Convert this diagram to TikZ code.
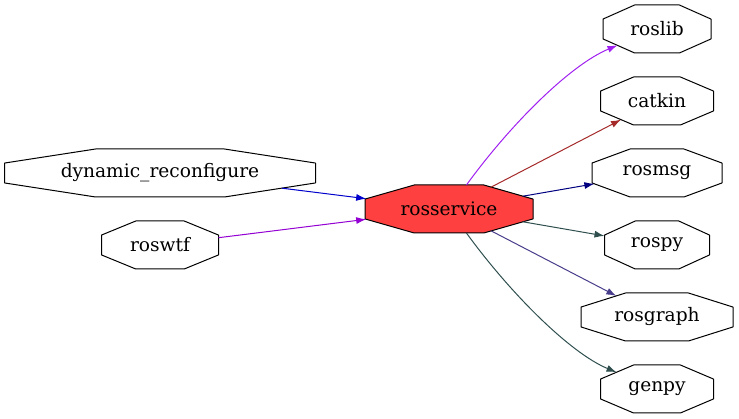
\documentclass[tikz,border=0pt]{standalone}
\usepackage{fontspec}
\setmainfont{DejaVu Serif}
\usetikzlibrary{arrows.meta}
\definecolor{edgepurple}{RGB}{160,32,240}
\definecolor{edgebrown}{RGB}{165,42,42}
\definecolor{edgenavy}{RGB}{0,0,128}
\definecolor{edgeslate}{RGB}{47,79,79}
\definecolor{edgeslateblue}{RGB}{72,61,139}
\definecolor{edgeblue}{RGB}{0,0,205}
\definecolor{edgeviolet}{RGB}{148,0,211}
\definecolor{mainred}{RGB}{255,64,64}
% octagon box, stretched to the node's width and height
\makeatletter
\def\pkg@getdims{%
	\southwest \edef\pkg@swx{\strip@pt\pgf@x}\edef\pkg@swy{\strip@pt\pgf@y}%
	\northeast \edef\pkg@nex{\strip@pt\pgf@x}\edef\pkg@ney{\strip@pt\pgf@y}%
	\pgfmathsetmacro\pkg@a{(\pkg@nex-\pkg@swx)/2}%
	\pgfmathsetmacro\pkg@b{(\pkg@ney-\pkg@swy)/2}%
	\pgfmathsetmacro\pkg@cx{(\pkg@nex+\pkg@swx)/2}%
	\pgfmathsetmacro\pkg@cy{(\pkg@ney+\pkg@swy)/2}}
\pgfdeclareshape{pkgoctagon}{%
	\inheritsavedanchors[from=rectangle]
	\inheritanchor[from=rectangle]{center}
	\inheritanchor[from=rectangle]{north}
	\inheritanchor[from=rectangle]{south}
	\inheritanchor[from=rectangle]{east}
	\inheritanchor[from=rectangle]{west}
	\backgroundpath{%
		\pkg@getdims
		\pgfmathsetmacro\pkg@xl{\pkg@cx-\pkg@a}\pgfmathsetmacro\pkg@xr{\pkg@cx+\pkg@a}%
		\pgfmathsetmacro\pkg@xi{\pkg@cx-0.4142*\pkg@a}\pgfmathsetmacro\pkg@xj{\pkg@cx+0.4142*\pkg@a}%
		\pgfmathsetmacro\pkg@yb{\pkg@cy-\pkg@b}\pgfmathsetmacro\pkg@yt{\pkg@cy+\pkg@b}%
		\pgfmathsetmacro\pkg@yi{\pkg@cy-0.4142*\pkg@b}\pgfmathsetmacro\pkg@yj{\pkg@cy+0.4142*\pkg@b}%
		\pgfpathmoveto{\pgfqpoint{\pkg@xi pt}{\pkg@yt pt}}%
		\pgfpathlineto{\pgfqpoint{\pkg@xj pt}{\pkg@yt pt}}%
		\pgfpathlineto{\pgfqpoint{\pkg@xr pt}{\pkg@yj pt}}%
		\pgfpathlineto{\pgfqpoint{\pkg@xr pt}{\pkg@yi pt}}%
		\pgfpathlineto{\pgfqpoint{\pkg@xj pt}{\pkg@yb pt}}%
		\pgfpathlineto{\pgfqpoint{\pkg@xi pt}{\pkg@yb pt}}%
		\pgfpathlineto{\pgfqpoint{\pkg@xl pt}{\pkg@yi pt}}%
		\pgfpathlineto{\pgfqpoint{\pkg@xl pt}{\pkg@yj pt}}%
		\pgfpathclose}
	\anchorborder{%
		\edef\pkg@dx{\strip@pt\pgf@x}\edef\pkg@dy{\strip@pt\pgf@y}%
		\pkg@getdims
		\pgfmathsetmacro\pkg@m{max(abs(\pkg@dx),abs(\pkg@dy),0.01)}%
		\pgfmathsetmacro\pkg@sx{\pkg@dx/\pkg@m}%
		\pgfmathsetmacro\pkg@sy{\pkg@dy/\pkg@m}%
		\pgfmathsetmacro\pkg@l{veclen(\pkg@sx,\pkg@sy)}%
		\pgfmathsetmacro\pkg@ux{abs(\pkg@sx)/\pkg@l}%
		\pgfmathsetmacro\pkg@uy{abs(\pkg@sy)/\pkg@l}%
		\pgfmathsetmacro\pkg@t{min(\pkg@a/max(\pkg@ux,0.01),\pkg@b/max(\pkg@uy,0.01),1.4142/(\pkg@ux/\pkg@a+\pkg@uy/\pkg@b))}%
		\pgfmathsetmacro\pkg@px{\pkg@cx+\pkg@t*\pkg@sx/\pkg@l}%
		\pgfmathsetmacro\pkg@py{\pkg@cy+\pkg@t*\pkg@sy/\pkg@l}%
		\pgf@x=\pkg@px pt\relax \pgf@y=\pkg@py pt\relax}
}
\makeatother
\begin{document}
\begin{tikzpicture}[x=1pt, y=-1pt, >={Latex[length=10pt,width=7pt]}, line join=round,
	font=\fontsize{18.6}{22}\selectfont,
	pkg/.style={pkgoctagon, draw, line width=1pt, inner sep=0pt, outer sep=0pt,
		minimum height=48pt, minimum width=#1},
	dep/.style={->, line width=1pt, draw=#1}]
	\useasboundingbox (0,0) rectangle (739,419);
	% packages
	\node[pkg=168pt, fill=mainred] (rosservice) at (449,209) {rosservice};
	\node[pkg=311pt] (dynrec) at (160,173) {dynamic\_reconfigure};
	\node[pkg=117pt] (roswtf) at (160,245) {roswtf};
	\node[pkg=108pt] (roslib) at (657,29) {roslib};
	\node[pkg=113pt] (catkin) at (657,101) {catkin};
	\node[pkg=130pt] (rosmsg) at (657,173) {rosmsg};
	\node[pkg=105pt] (rospy) at (657,245) {rospy};
	\node[pkg=152pt] (rosgraph) at (657,317) {rosgraph};
	\node[pkg=113pt] (genpy) at (657,389) {genpy};
	% dependencies
	\draw[dep=edgeblue] (dynrec) -- (rosservice);
	\draw[dep=edgeviolet] (roswtf) -- (rosservice);
	\draw[dep=edgepurple] (rosservice) .. controls (510,125) and (570,65) .. (roslib);
	\draw[dep=edgebrown] (rosservice) -- (catkin);
	\draw[dep=edgenavy] (rosservice) -- (rosmsg);
	\draw[dep=edgeslate] (rosservice) -- (rospy);
	\draw[dep=edgeslateblue] (rosservice) -- (rosgraph);
	\draw[dep=edgeslate] (rosservice) .. controls (510,293) and (570,353) .. (genpy);
\end{tikzpicture}
\end{document}
